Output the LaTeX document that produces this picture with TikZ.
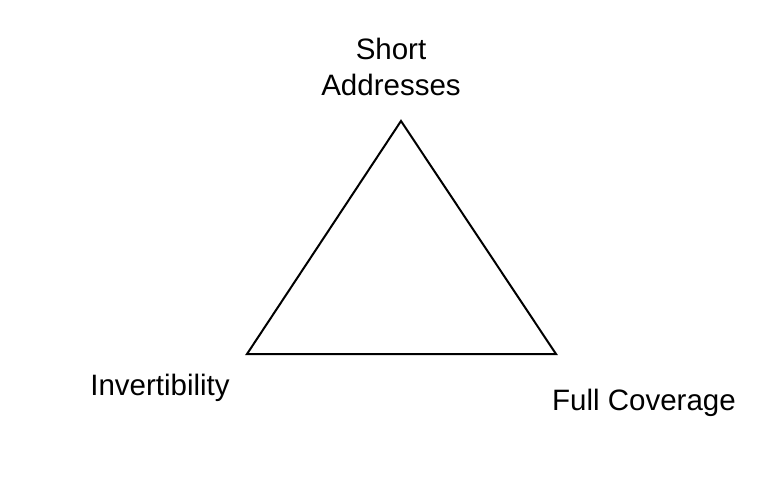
\documentclass[tikz,border=0pt]{standalone}
\usepackage{fontspec}
\setmainfont{Liberation Sans}
\begin{document}
\begin{tikzpicture}[x=1pt,y=-1pt]
\tikzstyle{every node}=[inner sep=0pt,align=center,font=\fontsize{29.5}{36}\selectfont]
\useasboundingbox (0,0) rectangle (784,480);
\coordinate (apex) at (401,121);
\coordinate (left) at (247,354);
\coordinate (right) at (556,354);
\draw[line width=2pt,line join=miter]
 (apex) -- (right) -- (left) -- cycle;
\node[anchor=north] (short) at (391,38) {Short\\Addresses};
\node[anchor=base] (invert) at (160,395) {Invertibility};
\node[anchor=base] (cover) at (644,410) {Full Coverage};
\end{tikzpicture}
\end{document}
